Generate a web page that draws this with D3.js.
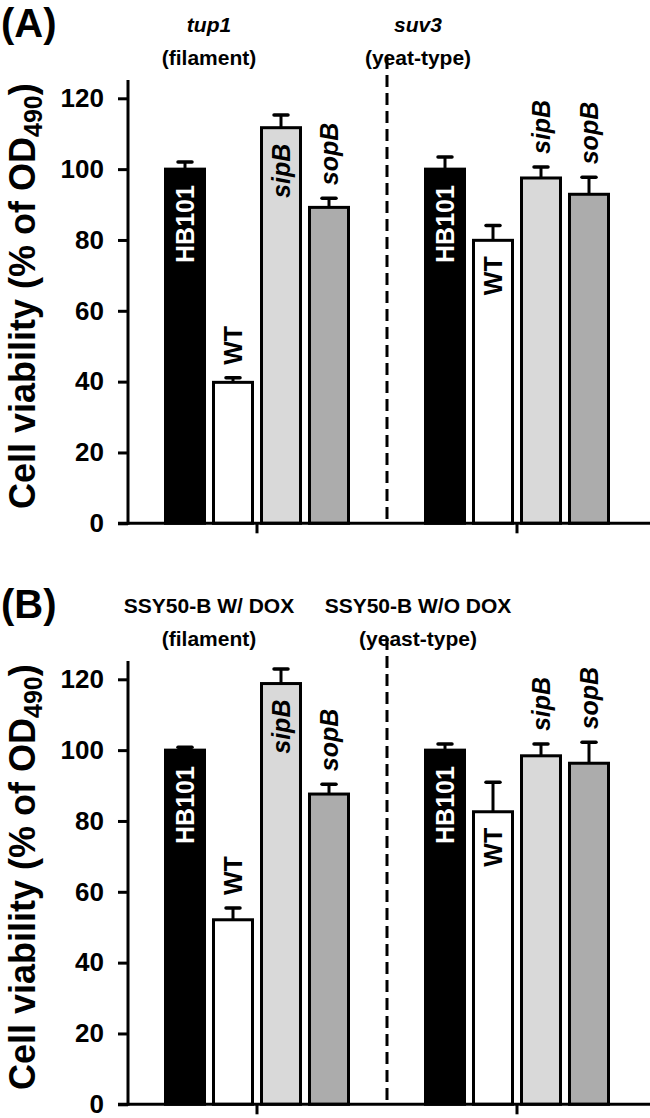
<!DOCTYPE html>
<html>
<head>
<meta charset="utf-8">
<script src="https://cdn.jsdelivr.net/npm/d3@7/dist/d3.min.js"></script>
<style>
  html, body { margin: 0; padding: 0; background: #fff; }
  svg { display: block; font-family: "Liberation Sans", Arial, sans-serif; }
</style>
</head>
<body>
<svg id="chart" width="650" height="1118"></svg>
<script>
// ---------- data ----------
const strains = ["HB101", "WT", "sipB", "sopB"];
const yTicks = [0, 20, 40, 60, 80, 100, 120];

const panelATitles = [["tup1", "(filament)"], ["suv3", "(yeat-type)"]];
const panelAValues = [[100, 39.8, 111.7, 89.2], [100, 79.9, 97.5, 92.9]];
const panelAErrors = [[2.0, 1.3, 3.6, 2.6], [3.4, 4.2, 3.1, 4.8]];
const panelALabelInside = [[true, false, true, false], [true, true, false, false]];

const panelBTitles = [["SSY50-B W/ DOX", "(filament)"], ["SSY50-B W/O DOX", "(yeast-type)"]];
const panelBValues = [[100, 52.1, 118.8, 87.6], [100, 82.6, 98.4, 96.3]];
const panelBErrors = [[0.8, 3.3, 4.1, 2.8], [1.7, 8.3, 3.3, 5.9]];
const panelBLabelInside = [[true, false, true, false], [true, true, false, false]];

const yTitleMain = "Cell viability (% of OD";
const yTitleSub = "490";

// ---------- layout ----------
const panels = [
  { letter: "(A)", titles: panelATitles, italicTitle: true, values: panelAValues, errors: panelAErrors, inside: panelALabelInside, oy: 0 },
  { letter: "(B)", titles: panelBTitles, italicTitle: false, values: panelBValues, errors: panelBErrors, inside: panelBLabelInside, oy: 581 }
];

const svg = d3.select("#chart");
const axisX = 128;
const x0 = d3.scaleBand().domain([0, 1]).range([127, 647]);
const x1 = d3.scaleBand().domain(strains).range([-96, 96]);
const y = d3.scaleLinear().domain([0, 120]).range([523.3, 98.3]);
const fill = d3.scaleOrdinal().domain(strains).range(["#000000", "#ffffff", "#d9d9d9", "#acacac"]);
const labelColor = d3.scaleOrdinal().domain(strains).range(["#ffffff", "#000000", "#000000", "#000000"]);
const titleX = [209, 418];
const barW = 39;

panels.forEach(p => {
  const g = svg.append("g").attr("transform", `translate(0,${p.oy})`);

  // panel letter
  g.append("text").attr("x", 1).attr("y", 36.5)
    .attr("font-size", 40).attr("font-weight", "bold").text(p.letter);

  // group titles
  p.titles.forEach((t, i) => {
    g.append("text").attr("x", titleX[i]).attr("y", 32)
      .attr("text-anchor", "middle").attr("font-size", 21).attr("font-weight", "bold")
      .attr("font-style", p.italicTitle ? "italic" : "normal").text(t[0]);
    g.append("text").attr("x", titleX[i]).attr("y", 65)
      .attr("text-anchor", "middle").attr("font-size", 21).attr("font-weight", "bold")
      .text(t[1]);
  });

  // y axis title
  const yt = g.append("text")
    .attr("transform", `translate(35,${(y(0) + 65) / 2 + 2}) rotate(-90)`)
    .attr("text-anchor", "middle").attr("font-size", 36).attr("font-weight", "bold");
  yt.append("tspan").text(yTitleMain);
  yt.append("tspan").attr("font-size", 25).attr("dy", 7).text(yTitleSub);
  yt.append("tspan").attr("dy", -7).text(")");

  // dashed divider
  g.append("line").attr("x1", x0(1)).attr("x2", x0(1)).attr("y1", 57).attr("y2", y(0))
    .attr("stroke", "#000").attr("stroke-width", 3).attr("stroke-dasharray", "12,6");

  // bars
  p.values.forEach((vals, gi) => {
    const cx0 = x0(gi) + x0.bandwidth() / 2;
    const gg = g.append("g").attr("transform", `translate(${cx0},0)`);
    strains.forEach((s, si) => {
      const v = vals[si], e = p.errors[gi][si];
      const cx = x1(s) + x1.bandwidth() / 2;
      // error bar
      gg.append("line").attr("x1", cx).attr("x2", cx).attr("y1", y(v)).attr("y2", y(v + e))
        .attr("stroke", "#000").attr("stroke-width", 3);
      gg.append("line").attr("x1", cx - 7).attr("x2", cx + 7).attr("y1", y(v + e)).attr("y2", y(v + e))
        .attr("stroke", "#000").attr("stroke-width", 3.5).attr("stroke-linecap", "round");
      // bar
      gg.append("rect").attr("x", cx - barW / 2).attr("width", barW)
        .attr("y", y(v)).attr("height", y(0) - y(v))
        .attr("fill", fill(s)).attr("stroke", "#000").attr("stroke-width", 3);
      // label
      const inside = p.inside[gi][si];
      const ly = inside ? y(v) + 16 : y(v + e) - 13;
      gg.append("text")
        .attr("transform", `translate(${cx},${ly}) rotate(-90)`)
        .attr("dy", "0.36em")
        .attr("text-anchor", inside ? "end" : "start")
        .attr("font-size", 25).attr("font-weight", "bold")
        .attr("font-style", (s === "sipB" || s === "sopB") ? "italic" : "normal")
        .attr("fill", inside ? labelColor(s) : "#000")
        .text(s);
    });
  });

  // y axis
  const ya = g.append("g").attr("transform", `translate(${axisX},0)`)
    .call(d3.axisLeft(y).tickValues(yTicks).tickSize(10).tickPadding(14));
  ya.select(".domain").remove();
  ya.selectAll(".tick line").attr("stroke", "#000").attr("stroke-width", 3);
  ya.selectAll(".tick text").attr("font-size", 26).attr("font-weight", "bold")
    .attr("font-family", "Liberation Sans, Arial, sans-serif").attr("fill", "#000");
  g.append("line").attr("x1", axisX).attr("x2", axisX).attr("y1", 80).attr("y2", y(0) + 1.5)
    .attr("stroke", "#000").attr("stroke-width", 3);

  // x axis
  const xa = g.append("g").attr("transform", `translate(0,${y(0)})`)
    .call(d3.axisBottom(x0).tickSize(10).tickFormat(""));
  xa.select(".domain").remove();
  xa.selectAll(".tick line").attr("stroke", "#000").attr("stroke-width", 3);
  g.append("line").attr("x1", 118).attr("x2", 650).attr("y1", y(0)).attr("y2", y(0))
    .attr("stroke", "#000").attr("stroke-width", 3);
});
</script>
</body>
</html>
